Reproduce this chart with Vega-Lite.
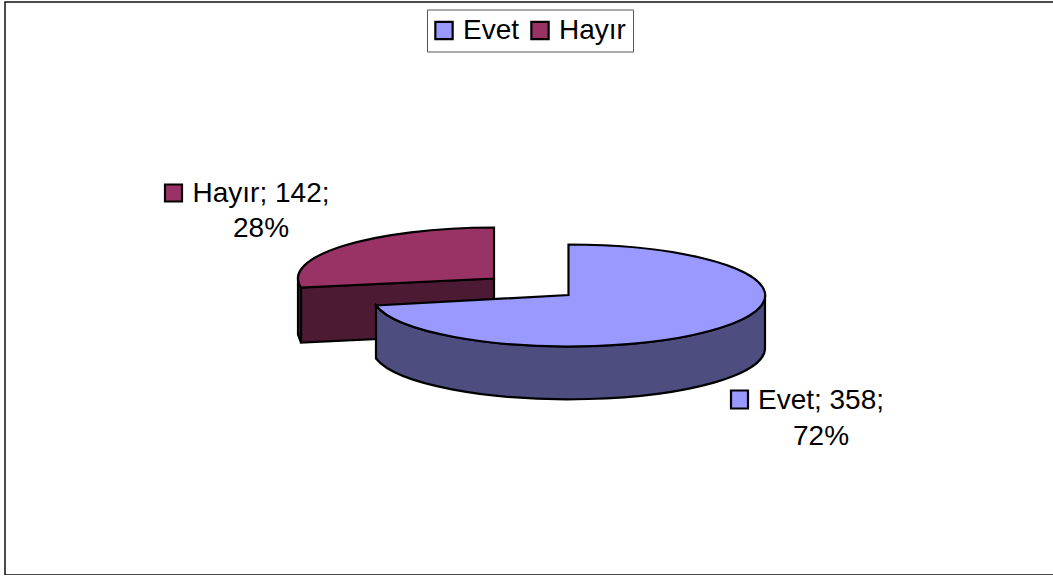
{"$schema":"https://vega.github.io/schema/vega-lite/v6.json","width":1050,"height":573,"autosize":"none","padding":{"left":5,"top":2,"right":0,"bottom":0},"background":"white","view":{"stroke":"#111111","strokeWidth":1.5,"fill":"white"},"config":{"font":"Liberation Sans","text":{"font":"Liberation Sans"}},"data":{"values":[{"category":"Evet","value":358},{"category":"Hayır","value":142}]},"transform":[{"joinaggregate":[{"op":"sum","field":"value","as":"total"}]},{"calculate":"datum.category + '; ' + datum.value + ';\\n' + round(datum.value / datum.total * 100) + '%'","as":"label"}],"layer":[{"transform":[{"filter":"datum.category === 'Hayır'"}],"mark":{"type":"point","filled":true,"opacity":1,"size":4,"fill":"#4D1A33","stroke":"black","strokeWidth":2.2,"shape":"M-229 -1 L-36 -10 L-36 45 L-229 54 Z M-232 -9 L-229 -1 L-229 54 L-232 46 Z"},"encoding":{}},{"transform":[{"filter":"datum.category === 'Hayır'"}],"mark":{"type":"point","filled":true,"opacity":1,"size":4,"stroke":"black","strokeWidth":2.2,"shape":"M-36 -10 L-36 -61 A196 51 0 0 0 -229 -1 Z"},"encoding":{"color":{"field":"category","type":"nominal","scale":{"domain":["Evet","Hayır"],"range":["#9999FF","#993366"]},"legend":{"title":null,"orient":"none","legendX":422,"legendY":7.5,"direction":"horizontal","symbolType":"square","symbolSize":300,"symbolStrokeColor":"black","symbolStrokeWidth":2.2,"symbolOpacity":1,"symbolOffset":-4,"labelFont":"Liberation Sans","labelFontSize":28,"labelColor":"black","labelOffset":5,"labelLimit":200,"columnPadding":6,"padding":7,"strokeColor":"#555555","fillColor":"white"}}}},{"transform":[{"filter":"datum.category === 'Evet'"}],"mark":{"type":"point","filled":true,"opacity":1,"size":4,"fill":"#4D4D80","stroke":"black","strokeWidth":2.2,"shape":"M-154 17 L-154 70 A196.5 51 0 0 0 235 60 L235 7 A196.5 51 0 0 1 -154 17 Z"},"encoding":{}},{"transform":[{"filter":"datum.category === 'Evet'"}],"mark":{"type":"point","filled":true,"opacity":1,"size":4,"stroke":"black","strokeWidth":2.2,"shape":"M38.5 6.5 L38.5 -44 A196.5 51 0 1 1 -154 17 Z"},"encoding":{"color":{"field":"category","type":"nominal","legend":null}}},{"transform":[{"filter":"datum.category === 'Evet'"}],"mark":{"type":"point","filled":true,"opacity":1,"size":4,"stroke":"black","strokeWidth":2.2,"shape":"M201 102 H218 V120 H201 Z"},"encoding":{"color":{"field":"category","type":"nominal","legend":null}}},{"transform":[{"filter":"datum.category === 'Hayır'"}],"mark":{"type":"point","filled":true,"opacity":1,"size":4,"stroke":"black","strokeWidth":2.2,"shape":"M-365 -104 H-348 V-87 H-365 Z"},"encoding":{"color":{"field":"category","type":"nominal","legend":null}}},{"transform":[{"filter":"datum.category === 'Evet'"}],"mark":{"type":"text","font":"Liberation Sans","fontSize":28,"color":"black","align":"center","baseline":"alphabetic","lineBreak":"\n","lineHeight":35.5,"dx":291,"dy":120.5},"encoding":{"text":{"field":"label","type":"nominal"}}},{"transform":[{"filter":"datum.category === 'Hayır'"}],"mark":{"type":"text","font":"Liberation Sans","fontSize":28,"color":"black","align":"center","baseline":"alphabetic","lineBreak":"\n","lineHeight":35.5,"dx":-269,"dy":-87},"encoding":{"text":{"field":"label","type":"nominal"}}}]}
